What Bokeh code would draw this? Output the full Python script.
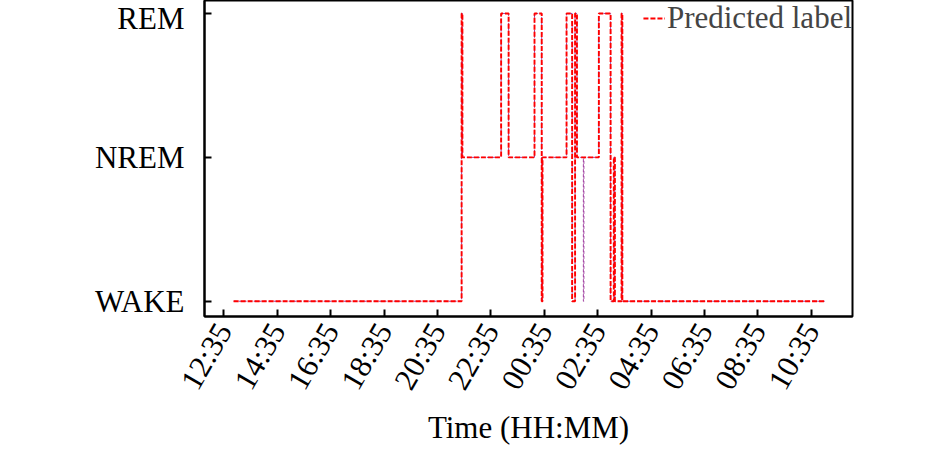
import math
from bokeh.plotting import figure
from bokeh.models import Range1d, FixedTicker, Legend, LegendItem
from bokeh.embed import file_html
from bokeh.resources import INLINE

# hours since 12:35 on the first day
tick_hours = [0, 2, 4, 6, 8, 10, 12, 14, 16, 18, 20, 22]
tick_labels = ["12:35", "14:35", "16:35", "18:35", "20:35", "22:35",
               "00:35", "02:35", "04:35", "06:35", "08:35", "10:35"]
state_values = [0, 1, 2]
state_labels = ["WAKE", "NREM", "REM"]

pred_times = [0.36, 8.90, 8.93, 10.38, 10.66, 11.63, 11.90, 11.93, 12.83, 13.04,
              13.15, 13.22, 14.04, 14.48, 14.60, 14.64, 14.89, 14.92, 22.50]
pred_states = [0, 2, 1, 2, 1, 2, 0, 1, 2, 0,
               2, 1, 2, 0, 1, 0, 2, 0, 0]

true_times = [0.36, 8.90, 8.93, 10.38, 10.66, 11.63, 11.90, 11.93, 12.83, 13.04,
              13.15, 13.22, 13.46, 13.48, 14.04, 14.48, 14.60, 14.64, 14.89, 14.92, 22.50]
true_states = [0, 2, 1, 2, 1, 2, 0, 1, 2, 0,
               2, 1, 0, 1, 2, 0, 1, 0, 2, 0, 0]

FONT = "Liberation Serif"

p = figure(width=937, height=448, output_backend="svg", toolbar_location=None,
           x_range=Range1d(-0.73, 23.54), y_range=Range1d(-0.106, 2.09),
           min_border_left=204, min_border_right=85, min_border_top=0,
           min_border_bottom=0)

p.step(true_times, true_states, mode="after", line_color="#a040a0",
       line_width=1, line_dash="3 2")
r_pred = p.step(pred_times, pred_states, mode="after", line_color="#ff0000",
                line_width=1.9, line_dash="5 2")

legend = Legend(items=[LegendItem(label="Predicted label", renderers=[r_pred])],
                location="top_right")
legend.border_line_color = None
legend.background_fill_alpha = 0
legend.margin = 0
legend.padding = 4
legend.label_text_font = FONT
legend.label_text_font_size = "31px"
legend.glyph_width = 22
legend.label_standoff = 2
p.add_layout(legend, "center")

p.xgrid.visible = False
p.ygrid.visible = False
p.outline_line_color = "black"
p.outline_line_width = 2

p.xaxis.ticker = FixedTicker(ticks=tick_hours)
p.xaxis.major_label_overrides = {h: l for h, l in zip(tick_hours, tick_labels)}
p.xaxis.major_label_orientation = math.pi / 3
p.yaxis.ticker = FixedTicker(ticks=state_values)
p.yaxis.major_label_overrides = {v: l for v, l in zip(state_values, state_labels)}

for ax in (p.xaxis[0], p.yaxis[0]):
    ax.axis_line_width = 2
    ax.major_tick_line_width = 2
    ax.major_tick_in = 7
    ax.major_tick_out = 0
    ax.minor_tick_line_color = None
    ax.major_label_text_font = FONT
    ax.major_label_text_font_size = "31px"
    ax.major_label_text_color = "black"

p.xaxis.major_label_standoff = 9
p.yaxis.major_label_standoff = 20
p.xaxis.axis_label = "Time (HH:MM)"
p.xaxis.axis_label_text_font = FONT
p.xaxis.axis_label_text_font_size = "31px"
p.xaxis.axis_label_text_font_style = "normal"
p.xaxis.axis_label_text_color = "black"
p.xaxis.axis_label_standoff = 3

open("out.html", "w").write(file_html(p, INLINE))
